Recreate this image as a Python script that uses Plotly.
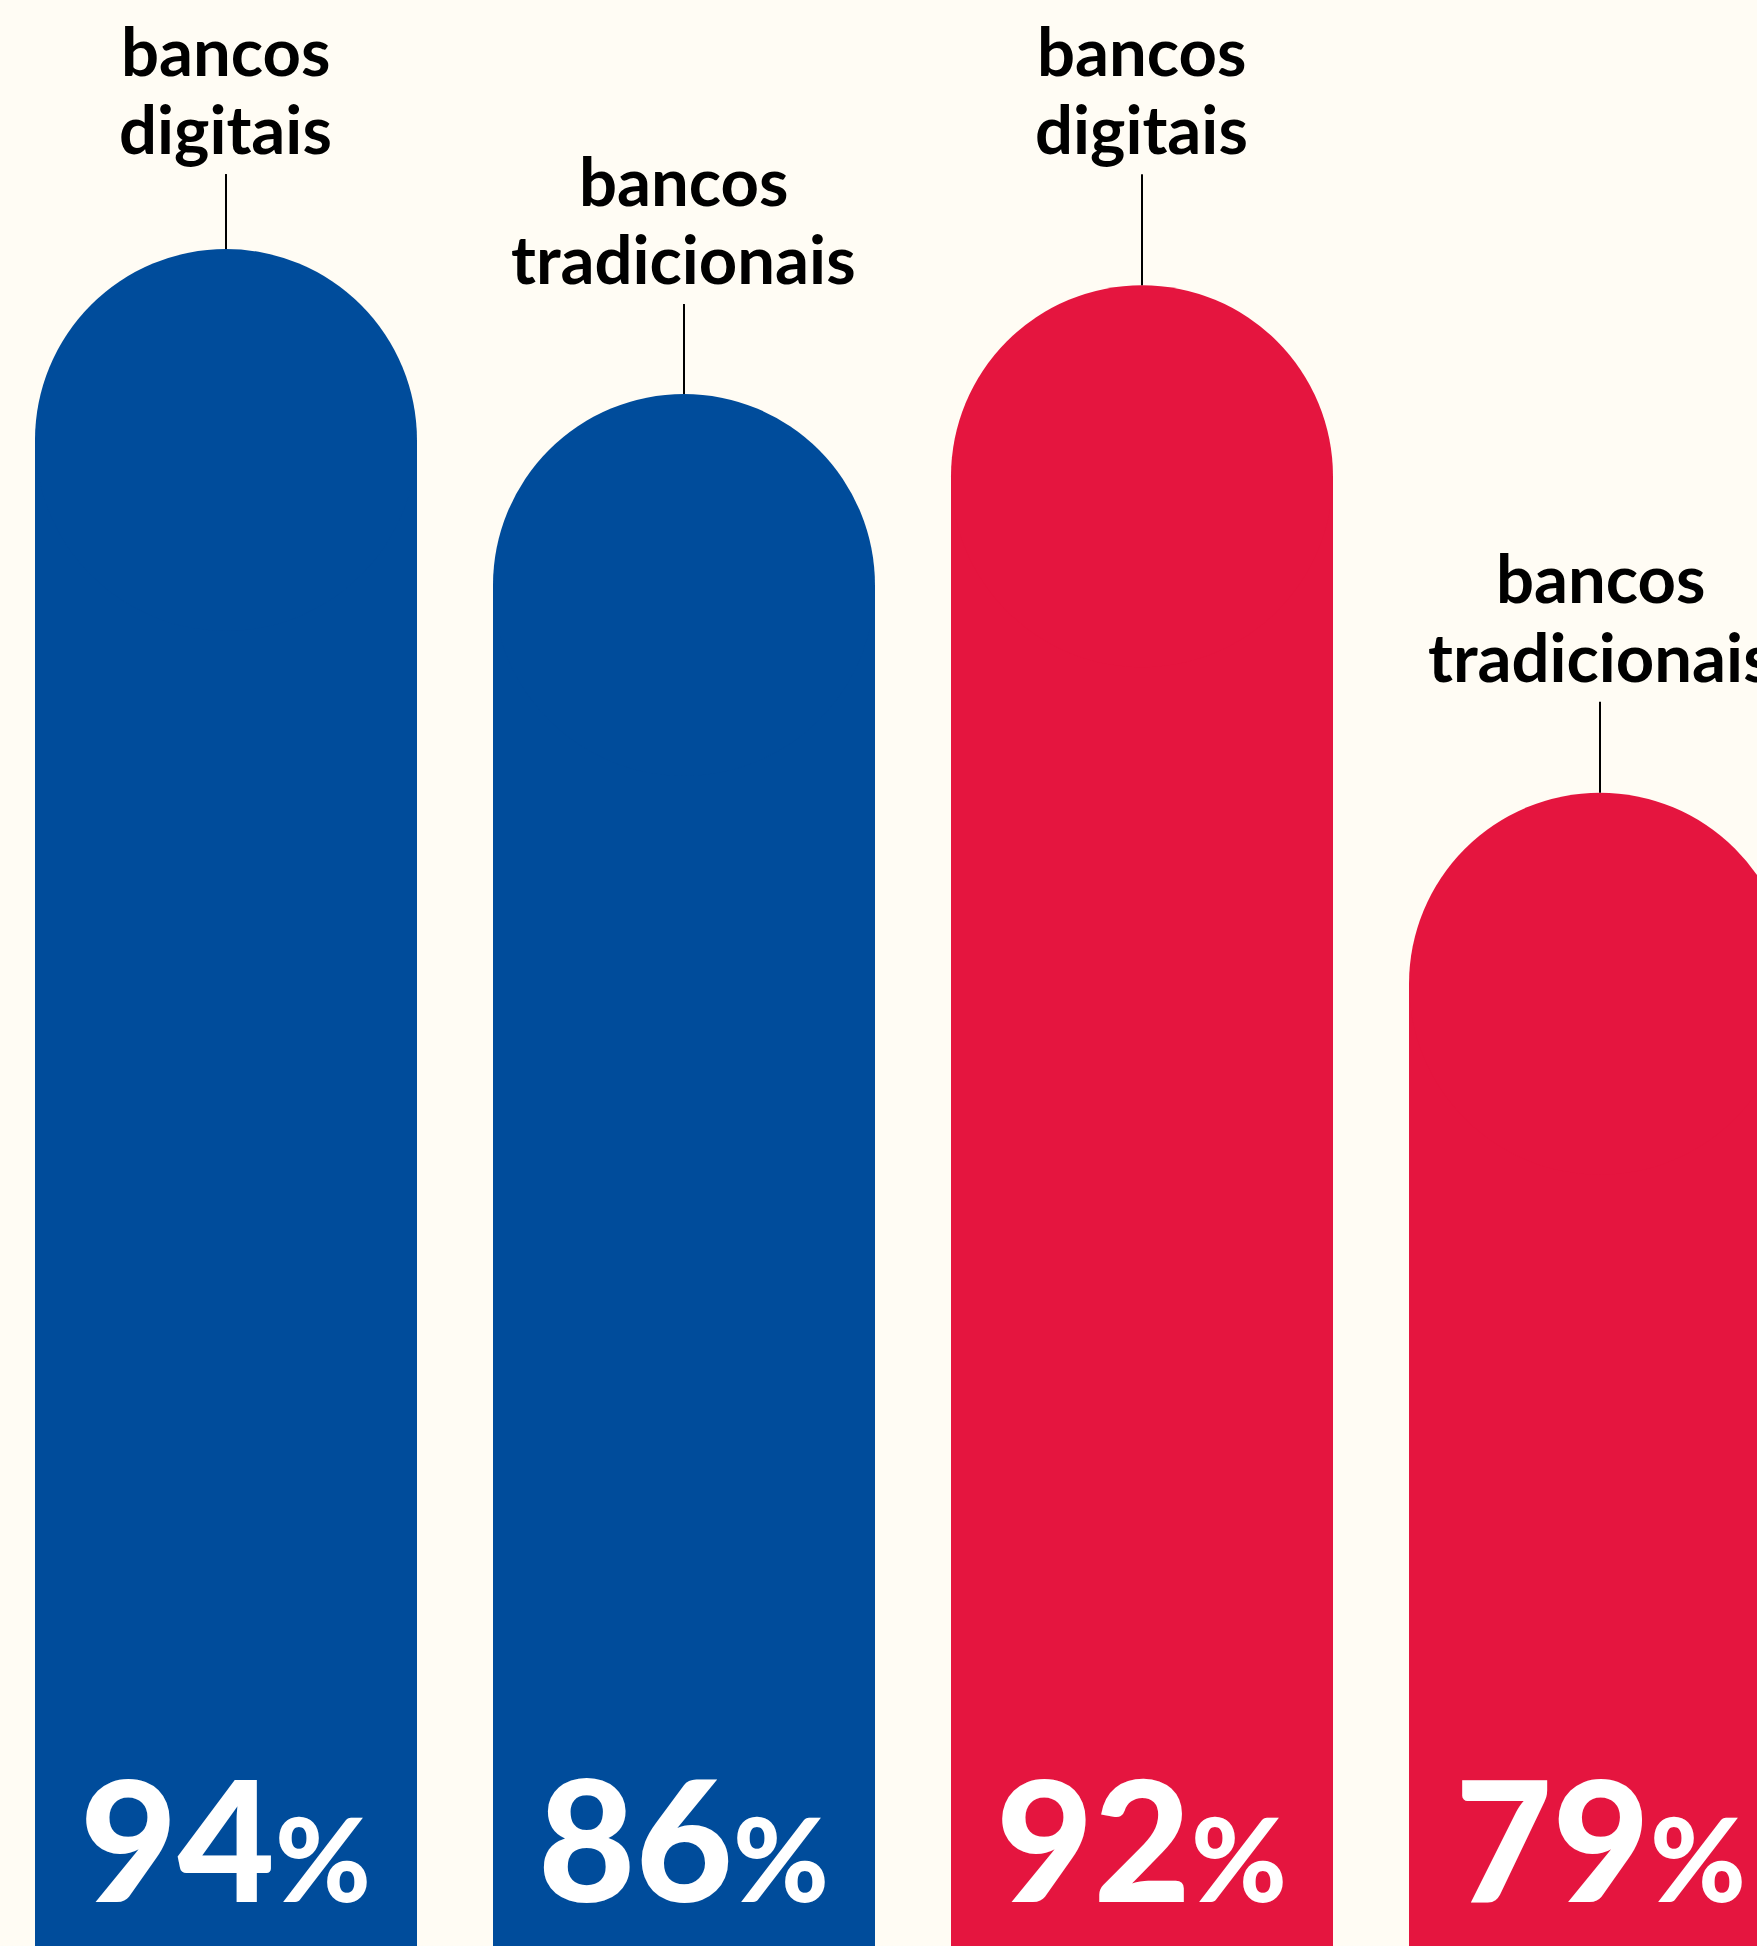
import plotly.graph_objects as go

# ---- data ----
categories = ["digitais_1", "tradicionais_1", "digitais_2", "tradicionais_2"]
values = [94, 86, 92, 79]                      # printed percentages
drawn_heights = [94, 86, 92, 64]               # bar heights as drawn (4th bar not to scale)
label_line1 = ["bancos", "bancos", "bancos", "bancos"]
label_line2 = ["digitais", "tradicionais", "digitais", "tradicionais"]

# ---- style ----
W, H = 1757, 1946
BG = "#FFFCF4"
BLUE = "#004C9B"
RED = "#E5153F"
bar_colors = [BLUE, BLUE, RED, RED]
connector_px = [75, 90, 111, 91]

x_range = [-0.4934, 3.3428]
y_range = [0.37, 107.74]
px_per_unit_x = W / (x_range[1] - x_range[0])
px_per_unit_y = H / (y_range[1] - y_range[0])
bar_w = 0.834
radius_px = bar_w * px_per_unit_x / 2
radius_y = radius_px / px_per_unit_y

xs = list(range(len(categories)))

fig = go.Figure()
fig.add_trace(go.Bar(
    x=xs, y=[h - radius_y for h in drawn_heights], width=bar_w,
    marker=dict(color=bar_colors, line=dict(width=0)),
    hoverinfo="skip", showlegend=False,
))
fig.add_trace(go.Scatter(
    x=xs, y=[h - radius_y for h in drawn_heights], mode="markers",
    marker=dict(size=2 * radius_px, color=bar_colors, line=dict(width=0), symbol="circle"),
    hoverinfo="skip", showlegend=False,
))

label_font = dict(family="Lato", size=67, color="#000000", weight=700)
for i, (h, l1, l2, c) in enumerate(zip(drawn_heights, label_line1, label_line2, connector_px)):
    fig.add_shape(type="line", xref="x", yref="y", x0=i, x1=i,
                  ysizemode="pixel", yanchor=h, y0=0, y1=c,
                  line=dict(color="#000000", width=2))
    fig.add_annotation(x=i, y=h, xref="x", yref="y", text=l2, showarrow=False,
                       yanchor="bottom", xanchor="center", yshift=c + 4, font=label_font)
    fig.add_annotation(x=i, y=h, xref="x", yref="y", text=l1, showarrow=False,
                       yanchor="bottom", xanchor="center", yshift=c + 4 + 78.5, font=label_font)

for i, v in enumerate(values):
    fig.add_annotation(
        x=i, y=0, xref="x", yref="paper",
        text=f"{v}<span style='font-size:116px'>%</span>",
        showarrow=False, yanchor="bottom", xanchor="center", yshift=6,
        font=dict(family="Lato", size=168, color="#FFFFFF", weight=900),
    )

fig.update_layout(
    width=W, height=H, margin=dict(l=0, r=0, t=0, b=0),
    paper_bgcolor=BG, plot_bgcolor=BG,
    xaxis=dict(range=x_range, visible=False, fixedrange=True),
    yaxis=dict(range=y_range, visible=False, fixedrange=True),
    bargap=0,
)

fig.write_html("out.html", config={"displayModeBar": False},
               post_script="document.body.style.margin='0px';")
